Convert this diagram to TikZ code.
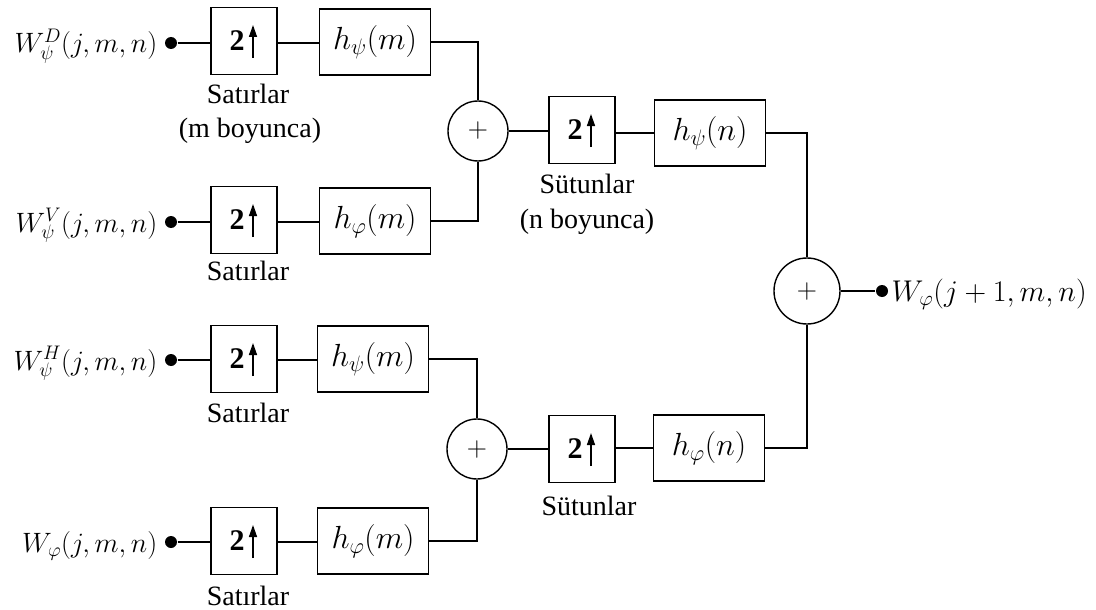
\RequirePackage{fix-cm}
\documentclass[tikz,border=0pt]{standalone}
\usepackage{fontspec}
\setmainfont{Liberation Serif}
\usetikzlibrary{arrows.meta}
\begin{document}
\begin{tikzpicture}[x=1pt,y=-1pt,line width=1.4pt,
  every node/.style={font=\fontsize{28}{32}\selectfont},
  upbox/.style={draw,minimum width=66pt,minimum height=67pt,inner sep=0pt,font=\fontsize{30}{34}\selectfont\bfseries},
  fbox/.style={draw,minimum width=111pt,minimum height=66pt,inner sep=0pt,font=\fontsize{32}{36}\selectfont},
  sumnode/.style={draw,circle,minimum size=60pt,inner sep=0pt},
  bigsum/.style={draw,circle,minimum size=66pt,inner sep=0pt},
  dotnode/.style={circle,fill,minimum size=12pt,inner sep=0pt},
  uparr/.style={line width=1.4pt,-{Triangle[length=12pt,width=8pt]}},
  lbl/.style={anchor=base,inner sep=0pt}]
\useasboundingbox (0,0) rectangle (1096,610);

% row 1
\node[dotnode] (d1) at (171,43) {};
\node[anchor=base east,inner sep=0pt] (l1) at (158,53) {$W^{D}_{\psi}(j, m, n)$};
\node[upbox] (u1) at (244,41) {2\kern14pt};
\node[fbox] (h1) at (375,42) {$h_{\psi}(m)$};
\node[lbl] (t1) at (248,103) {Satırlar};
\node[lbl] (t1b) at (250,137) {(m boyunca)};

% row 2
\node[dotnode] (d2) at (171,222) {};
\node[anchor=base east,inner sep=0pt] (l2) at (158,232) {$W^{V}_{\psi}(j, m, n)$};
\node[upbox] (u2) at (244,220) {2\kern14pt};
\node[fbox] (h2) at (375,221) {$h_{\varphi}(m)$};
\node[lbl] (t2) at (248,280) {Satırlar};

% row 3
\node[dotnode] (d3) at (171,360) {};
\node[anchor=base east,inner sep=0pt] (l3) at (158,370) {$W^{H}_{\psi}(j, m, n)$};
\node[upbox] (u3) at (244,359) {2\kern14pt};
\node[fbox] (h3) at (373,359) {$h_{\psi}(m)$};
\node[lbl] (t3) at (248,422) {Satırlar};

% row 4
\node[dotnode] (d4) at (171,542) {};
\node[anchor=base east,inner sep=0pt] (l4) at (158,552) {$W_{\varphi}(j, m, n)$};
\node[upbox] (u4) at (244,541) {2\kern14pt};
\node[fbox] (h4) at (373,541) {$h_{\varphi}(m)$};
\node[lbl] (t4) at (248,605) {Satırlar};

% sums
\node[sumnode] (s1) at (478,131) {$+$};
\node[sumnode] (s2) at (477,449) {$+$};

% column stage
\node[upbox] (c1) at (582,130) {2\kern14pt};
\node[fbox] (n1) at (710,133) {$h_{\psi}(n)$};
\node[lbl] (tc1) at (587,193) {Sütunlar};
\node[lbl] (tc1b) at (587,228) {(n boyunca)};

\node[upbox] (c2) at (582,449) {2\kern14pt};
\node[fbox] (n2) at (709,448) {$h_{\varphi}(n)$};
\node[lbl] (tc2) at (589,515) {Sütunlar};

% final sum and output
\node[bigsum] (S) at (807,291) {$+$};
\node[dotnode] (od) at (882,291) {};
\node[anchor=base west,inner sep=0pt,font=\fontsize{30}{34}\selectfont] (ol) at (891,301) {$W_{\varphi}(j + 1, m, n)$};

% up arrows inside boxes
\foreach \b in {u1,u2,u3,u4,c1,c2}{
  \draw[uparr] ([xshift=9pt,yshift=-17pt]\b.center) -- ([xshift=9pt,yshift=16pt]\b.center);
}

% connectors
\foreach \i in {1,2,3,4}{
  \draw (d\i) -- (u\i.west |- d\i);
  \draw (u\i.east |- d\i) -- (h\i.west |- d\i);
}
\draw (h1.east) -| (s1.north);
\draw (h2.east) -| (s1.south);
\draw (h3.east) -| (s2.north);
\draw (h4.east) -| (s2.south);
\draw (s1.east) -- (c1.west |- s1);
\draw (c1.east |- n1) -- (n1.west);
\draw (n1.east) -| (S.north);
\draw (s2.east) -- (c2.west |- s2);
\draw (c2.east |- n2) -- (n2.west);
\draw (n2.east) -| (S.south);
\draw (S.east) -- (od);
\end{tikzpicture}
\end{document}
